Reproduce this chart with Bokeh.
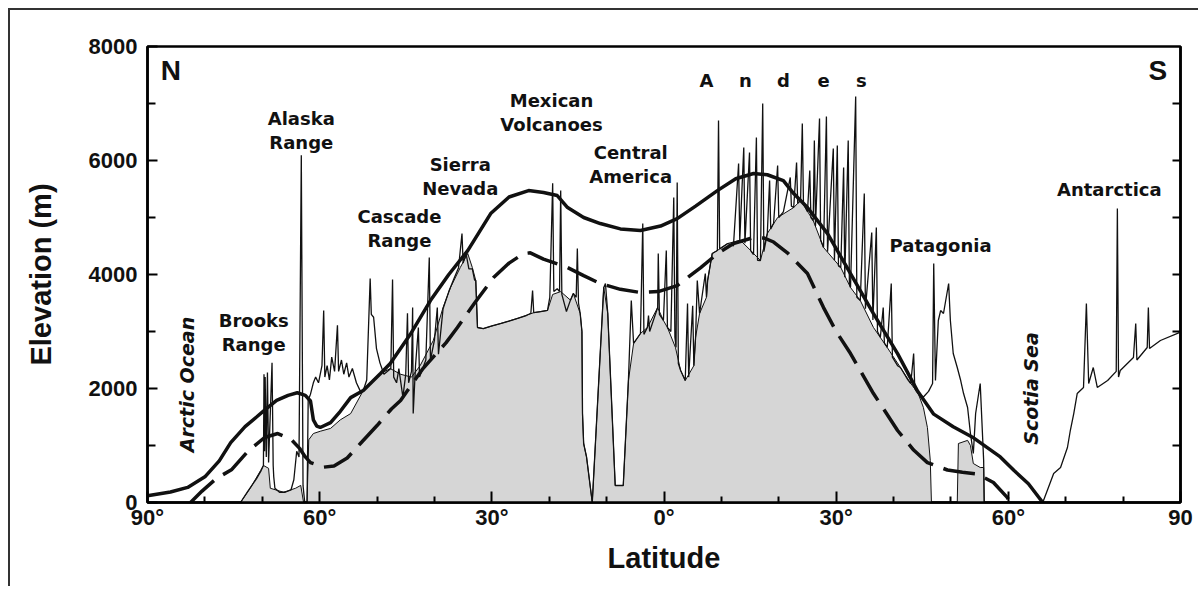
import math
from bokeh.plotting import figure
from bokeh.models import Range1d, LinearAxis, FixedTicker, CustomJSTickFormatter
from bokeh.core.properties import value
from bokeh.embed import file_html
from bokeh.resources import INLINE

NaN = float("nan")

# ---------------- data (latitude: N positive, S negative; elevation in m) ----------------
# solid thick curve
solid_lat = [90, 86, 83, 80, 77.5, 75.5, 73, 71, 69.6, 67.5, 65.5, 63.9, 62.5, 61.6, 61.1, 60.5, 59.9,
             58.1, 56.4, 54.6, 52.4, 49.4, 47.7, 44.2, 40.7, 37.5, 34.2, 30.2, 27.0, 23.6, 21.0, 18.6,
             16.8, 14.0, 11.1, 7.6, 4.1, 0.6, -2.3, -5.5, -9.3, -12.5, -15.6, -18.0, -20.8, -22.6, -25.0,
             -28.5, -32.5, -36.5, -40.7, -44.2, -47.0, -50.4, -54.0, -58.6, -61.0, -63.5, -66.0]
solid_elev = [120, 185, 265, 450, 730, 1050, 1330, 1500, 1620, 1790, 1880, 1925, 1880, 1780, 1450, 1340, 1316,
              1400, 1600, 1840, 1965, 2263, 2440, 2950, 3543, 4000, 4420, 5069, 5360, 5472, 5440, 5385,
              5174, 5000, 4894, 4800, 4771, 4850, 4981, 5200, 5472, 5680, 5771, 5750, 5648, 5420, 5174,
              4718, 4017, 3315, 2613, 1950, 1550, 1330, 1130, 800, 560, 330, 0]

# dashed thick curve
dashed_lat = [82.5, 80.5, 78.0, 75.3, 72.5, 69.6, 67.3, 65.0, 63.5, 62.5, 61.6, 59.3, 57.5, 55.2, 52.9,
              50.0, 47.5, 45.9, 42.0, 38.0, 36.0, 33.0, 29.7, 27.0, 24.5, 23.3, 21.0, 16.8, 14.0, 11.1,
              7.6, 4.1, 1.0, -2.3, -6.4, -9.5, -12.1, -15.6, -17.5, -19.1, -21.5, -25.0, -27.8, -30.0,
              -32.5, -36.5, -40.7, -43.5, -45.9, -49.4, -52.0, -54.6, -57.4, -59.8, -60.3]
dashed_elev = [0, 200, 420, 580, 900, 1140, 1210, 1110, 950, 800, 700, 620, 640, 780, 1035,
               1350, 1640, 1789, 2350, 2800, 3070, 3500, 3947, 4200, 4367, 4380, 4270, 4122, 3980, 3841,
               3740, 3684, 3700, 3806, 4122, 4380, 4543, 4648, 4640, 4570, 4380, 4017, 3420, 3000,
               2613, 1912, 1263, 920, 700, 570, 530, 500, 350, 90, 0]

# thin profile line (with peaks)
ridge_lat = [73.8, 72.5, 71.0, 70.2, 69.8, 69.7, 69.6, 69.5, 69.3, 69.1, 68.9, 68.3, 68.1, 68.0, 67.8,
             67.0, 66.0, 65.0, 64.5, 64.0, 63.6, 63.2, 62.9, 62.6, 62.2, 62.0, 61.6, 61.1, 60.7, 60.2,
             59.6, 59.3, 59.1, 58.7, 58.3, 57.9, 57.4, 56.9, 56.7, 56.2, 55.8, 55.3, 54.9, 54.3, 53.6,
             52.9, 52.4, 51.8, 51.2, 51.0, 50.6, 50.1, 49.5, 48.8, 47.6, 47.3, 47.1, 46.6, 46.2, 45.5,
             45.0, 44.7, 44.5, 44.0, 43.8, 43.7, 43.3, 42.8, 42.6, 41.5, 40.9, 40.7, 40.0, 39.5, 39.3,
             38.5, 37.5, 36.5, 35.8, 35.2, 35.0, 34.5, 34.0, 33.4, 33.0, 32.8, 32.5, 31.5, 30.0, 28.5,
             27.0, 25.5, 24.0, 23.2, 22.9, 22.7, 21.5, 20.3, 19.9, 19.4, 19.2, 18.6, 18.2, 18.0, 17.8,
             17.0, 16.3, 15.8, 15.3, 15.1, 14.9, 14.6, 14.3, 14.2, 14.0, 13.5, 12.5, 10.5, 10.2, 9.8,
             8.5, 7.1, 6.2, 5.7, 5.3, 4.1, 3.7, 3.5, 2.9, 2.7, 2.5, 1.5, 1.1, 1.0, 0.8,
             0.1, -0.4, -0.6, -1.2, -1.7, -1.9, -2.1, -2.3, -2.5, -2.9, -3.7, -4.1, -4.3, -5.0, -5.2,
             -5.5, -5.8, -6.2, -7.2, -7.4, -7.6, -8.4, -9.3, -9.5, -9.7, -11.1, -12.1, -13.0, -13.2, -13.9,
             -14.1, -14.9, -15.1, -15.6, -16.1, -16.3, -16.8, -17.2, -17.4, -18.0, -18.4, -18.6, -19.1, -19.8, -20.0,
             -20.8, -22.0, -22.2, -22.6, -23.1, -23.3, -23.8, -24.1, -24.3, -25.0, -25.4, -25.6, -26.0, -26.2, -26.4,
             -27.1, -27.3, -27.8, -28.3, -28.5, -29.5, -29.7, -30.2, -30.4, -30.8, -31.3, -31.5, -32.1, -32.3, -32.5,
             -33.4, -33.6, -34.2, -34.9, -35.1, -36.2, -36.4, -37.0, -37.2, -37.7, -38.2, -38.4, -38.9, -39.6, -39.8,
             -40.7, -41.2, -42.5, -43.0, -43.5, -43.7, -44.3, -45.2, -46.1, -46.8, -47.0, -47.3, -47.8, -48.2, -48.7,
             -49.6, -49.9, -50.4, -51.1, -51.7, -52.2, -52.9, -53.4, -53.9, -54.3, -55.1, -55.7, -55.8, NaN,
             -66.0, -67.9, -69.1, -70.3, -70.8, -71.4, -72.0, -73.1, -73.6, -74.0, -74.8, -75.5, -77.3, -78.8,
             -79.0, -79.2, -79.5, -81.8, -82.2, -82.4, -84.2, -84.4, -84.6, -86.5, -90.0]
ridge_elev = [0, 200, 420, 560, 650, 2250, 900, 2200, 800, 2280, 700, 2450, 650, 450, 250,
              180, 180, 220, 400, 900, 800, 6090, 300, 0, 0, 1800, 1900, 2100, 2200, 2100,
              2400, 3370, 2200, 2400, 2150, 2550, 2300, 3110, 2300, 2500, 2250, 2450, 2200, 2350, 2100,
              1950, 1965, 2150, 3930, 3300, 3250, 2700, 2450, 2250, 2350, 3910, 2200, 2100, 2350, 1850,
              2250, 3320, 2100, 2300, 3420, 1560, 2400, 3070, 2200, 2500, 4300, 2500, 2850, 3420, 2600,
              3400, 3700, 3950, 4120, 4720, 4200, 4370, 4100, 4100, 3900, 3895, 3070, 3050, 3100, 3140,
              3180, 3230, 3280, 3320, 3720, 3330, 3350, 3370, 3600, 5600, 3700, 3750, 3700, 5474, 3650,
              3350, 3550, 3667, 3600, 4456, 3500, 3316, 3000, 1561, 1035, 800, 0, 3772, 3842, 3316,
              298, 298, 2140, 3544, 2790, 2965, 4895, 2950, 3070, 3281, 3000, 3300, 3421, 4368, 3300,
              3193, 4421, 3070, 3000, 5351, 2900, 2719, 5614, 2439, 2316, 2140, 3491, 2200, 3450, 2400,
              2895, 3895, 3316, 4018, 3600, 3895, 4368, 4421, 6702, 4450, 4544, 4500, 5947, 4600, 6228,
              4550, 6140, 4420, 4350, 6403, 4250, 4246, 7000, 4400, 4719, 5649, 4800, 4900, 5912, 5000,
              5100, 5702, 5200, 5175, 5965, 5250, 5298, 6649, 5250, 5100, 5825, 5000, 4947, 6351, 4850,
              6737, 4600, 4474, 6772, 4400, 6210, 4250, 6263, 4150, 4123, 5877, 3950, 6351, 3850, 3772,
              7123, 3600, 3544, 5421, 3400, 4737, 3200, 4825, 3000, 2900, 3421, 2800, 2719, 3842, 2550,
              2400, 2368, 2150, 2088, 2614, 2000, 1912, 1850, 1950, 2088, 4193, 2140, 3193, 3368, 3316,
              3842, 3193, 2614, 2368, 2140, 1912, 1667, 1211, 860, 1561, 2088, 737, 0, NaN,
              0, 509, 614, 965, 1263, 1561, 1912, 2018, 3491, 2088, 2368, 2018, 2140, 2300,
              5158, 2200, 2316, 2544, 3140, 2500, 2719, 3421, 2700, 2842, 2990]

# shaded area (top boundary)
shade_lat = [73.8, 72.1, 70.3, 69.8, 68.9, 68.6, 66.3, 64.2, 63.3, 62.8, 62.2, 61.9, 61.1, 59.9, 58.1,
             56.4, 54.6, 52.4, 49.4, 47.7, 45.9, 44.0, 42.5, 40.2, 38.5, 37.2, 35.5, 34.2, 33.4, 32.8,
             32.5, 31.5, 28.5, 25.5, 22.7, 20.3, 19.4, 18.0, 16.3, 15.8, 14.6, 14.3, 14.2, 14.0, 13.5,
             12.5, 10.5, 9.8, 8.5, 7.1, 6.2, 5.3, 4.1, 2.9, 1.1, 0.1, -0.6, -2.0, -2.9, -3.7,
             -5.2, -5.5, -6.2, -7.4, -7.6, -8.4, -9.3, -11.1, -13.3, -15.1, -16.8, -18.0, -19.8, -22.6, -23.8,
             -26.0, -27.8, -30.8, -32.5, -34.2, -36.5, -38.9, -41.2, -43.0, -44.3, -45.2, -45.9, -46.4, -46.6, -51.1,
             -51.3, -52.9, -53.4, -53.9, -55.1, -55.7, -55.8, -90.0]
shade_elev = [0, 250, 560, 650, 600, 250, 180, 250, 300, 0, 0, 1100, 1210, 1250, 1300,
              1450, 1560, 1965, 2260, 2350, 2250, 2200, 2400, 2842, 3421, 3772, 4123, 4368, 4123, 3895,
              3070, 3050, 3140, 3230, 3330, 3370, 3650, 3700, 3550, 3667, 3316, 3000, 1561, 1035, 800,
              0, 3772, 3316, 298, 298, 2140, 2790, 2965, 3070, 3421, 3193, 3070, 2719, 2316, 2140,
              2400, 2895, 3316, 3600, 3895, 4368, 4421, 4544, 4600, 4421, 4246, 4719, 5000, 5175, 5298,
              4947, 4474, 4123, 3772, 3544, 3070, 2719, 2368, 2088, 1912, 1667, 1316, 737, 0, 0,
              1035, 1090, 1000, 684, 614, 614, 0, 0]

# axis ticks and labels
x_ticks = [90, 60, 30, 0, -30, -60, -90]
x_tick_labels = ["90°", "60°", "30°", "0°", "30°", "60°", "90"]
x_minor_ticks = [80, 70, 50, 40, 20, 10, -10, -20, -40, -50, -70, -80]
y_ticks = [0, 2000, 4000, 6000, 8000]
y_minor_ticks = [1000, 3000, 5000, 7000]
y_right_ticks = [1000, 2000, 3000, 4000, 5000, 6000, 7000]

# region labels
region_text = ["Brooks\nRange", "Alaska\nRange", "Cascade\nRange", "Sierra\nNevada",
               "Mexican\nVolcanoes", "Central\nAmerica", "Patagonia", "Antarctica"]
region_lat = [71.5, 63.2, 46.1, 35.5, 19.6, 5.8, -48.2, -77.6]
region_elev = [2982, 6526, 4807, 5719, 6842, 5930, 4509, 5491]

andes_letters = ["A", "n", "d", "e", "s"]
andes_lat = [-7.4, -14.2, -20.8, -27.8, -34.4]
andes_elev = [7404, 7404, 7404, 7404, 7404]

sea_text = ["Arctic Ocean", "Scotia Sea"]
sea_lat = [83.2, -64.0]
sea_elev = [2070, 2000]

# ---------------- figure ----------------
p = figure(width=1190, height=578,
           x_range=Range1d(90, -90), y_range=Range1d(0, 8000),
           output_backend="svg", toolbar_location=None,
           min_border_left=137, min_border_right=20, min_border_top=36, min_border_bottom=86)
p.styles = {"border-left": "2px solid #333", "border-top": "2px solid #333",
            "margin-left": "8px", "margin-top": "8px"}
p.background_fill_color = "white"
p.border_fill_color = "white"
p.grid.visible = False
p.outline_line_color = "black"
p.outline_line_width = 2.5
p.outline_line_alpha = 1.0

ink = "#111111"

# shaded area
p.varea(x=shade_lat, y1=[0] * len(shade_lat), y2=shade_elev, fill_color="#d6d6d6")
p.line(shade_lat, shade_elev, line_color=ink, line_width=1)
# thin profile
p.line(ridge_lat, ridge_elev, line_color=ink, line_width=1.3)
# thick curves
p.line(dashed_lat, dashed_elev, line_color=ink, line_width=3.5, line_dash="32 11")
p.line(solid_lat, solid_elev, line_color=ink, line_width=3.5)

# axes
xa = p.below[0]
xa.ticker = FixedTicker(ticks=x_ticks, minor_ticks=x_minor_ticks)
xa.major_label_overrides = dict(zip(x_ticks, x_tick_labels))
ya = p.left[0]
ya.ticker = FixedTicker(ticks=y_ticks, minor_ticks=y_minor_ticks)

for ax in (xa, ya):
    ax.axis_line_width = 2.5
    ax.axis_line_color = "black"
    ax.major_tick_out = 0
    ax.minor_tick_out = 0
    ax.major_tick_line_width = 2
    ax.minor_tick_line_width = 2
    ax.major_label_text_font = "Liberation Sans"
    ax.major_label_text_font_style = "bold"
    ax.major_label_text_font_size = "22px"
    ax.major_label_text_color = ink
    ax.axis_label_text_font = "Liberation Sans"
    ax.axis_label_text_font_style = "bold"
    ax.axis_label_text_font_size = "29px"
    ax.axis_label_text_color = ink

xa.major_tick_in = 11
xa.minor_tick_in = 6
xa.major_label_standoff = 2
xa.axis_label = "Latitude"
xa.axis_label_standoff = 9

ya.major_tick_in = 10
ya.minor_tick_in = 8
ya.major_label_standoff = 10
ya.axis_label = "Elevation (m)"
ya.axis_label_standoff = 29

ra = LinearAxis(ticker=FixedTicker(ticks=y_right_ticks),
                formatter=CustomJSTickFormatter(code="return ''"))
ra.axis_line_width = 2.5
ra.major_tick_in = 8
ra.major_tick_out = 0
ra.major_tick_line_width = 2
ra.minor_tick_line_color = None
ra.major_label_standoff = 0
p.add_layout(ra, "right")

# labels
p.text(x=region_lat, y=region_elev, text=region_text,
       text_font=value("DejaVu Sans"), text_font_style="bold", text_font_size="18px",
       text_align="center", text_baseline="middle", text_line_height=1.1, text_color=ink)
p.text(x=andes_lat, y=andes_elev, text=andes_letters,
       text_font=value("DejaVu Sans"), text_font_style="bold", text_font_size="18px",
       text_align="center", text_baseline="middle", text_color=ink)
p.text(x=sea_lat, y=sea_elev, text=sea_text, angle=math.pi / 2,
       text_font=value("DejaVu Sans"), text_font_style="bold italic", text_font_size="19px",
       text_align="center", text_baseline="middle", text_color=ink)
p.text(x=[87.7], y=[7579], text=["N"], text_font=value("Liberation Sans"), text_font_style="bold",
       text_font_size="28px", text_align="left", text_baseline="middle", text_color=ink)
p.text(x=[-87.7], y=[7579], text=["S"], text_font=value("Liberation Sans"), text_font_style="bold",
       text_font_size="28px", text_align="right", text_baseline="middle", text_color=ink)

open("out.html", "w").write(file_html(p, INLINE, "Elevation profile"))
